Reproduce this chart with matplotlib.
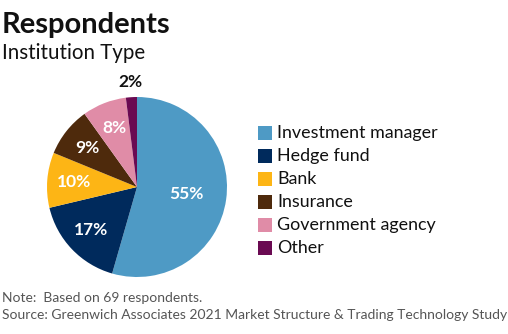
import numpy as np
import matplotlib.pyplot as plt
from matplotlib.patches import Rectangle

plt.rcParams['font.family'] = ['Lato', 'DejaVu Sans']

categories = ['Investment manager', 'Hedge fund', 'Bank', 'Insurance',
              'Government agency', 'Other']
shares = [55, 17, 10, 9, 8, 2]
colors = ['#4E9AC5', '#002A5C', '#FDB515', '#4E2A0C', '#E08CA7', '#6A0A52']

W, H = 508, 334
fig = plt.figure(figsize=(W / 100, H / 100), dpi=100)

def fx(px):
    return px / W

def fy(py):
    return 1 - py / H

# title block
fig.text(fx(2), fy(33), 'Respondents', fontsize=21, fontweight='bold',
         color='#111111', va='baseline')
fig.text(fx(2), fy(59), 'Institution Type', fontsize=14.8, color='#111111',
         va='baseline')

# pie, clockwise from 12 o'clock
cx, cy, r = 137, 187, 90
ax = fig.add_axes([fx(cx - r), fy(cy + r), fx(2 * r), 2 * r / H])
wedges, _ = ax.pie(shares, colors=colors, startangle=90, counterclock=False,
                   wedgeprops=dict(linewidth=0))
ax.set_xlim(-1, 1)
ax.set_ylim(-1, 1)
ax.set_aspect('equal')
ax.axis('off')

for i, (w, v) in enumerate(zip(wedges, shares)):
    ang = np.deg2rad((w.theta1 + w.theta2) / 2)
    if v < 5:
        d, c = 1.17, '#111111'
    elif i == 0:
        d, c = 0.55, 'white'
    else:
        d, c = 0.7, 'white'
    ax.text(d * np.cos(ang), d * np.sin(ang), f'{v}%', ha='center',
            va='center', fontsize=12.5, fontweight='bold', color=c,
            clip_on=False)

# legend
y0, dy = 133, 23
for i, (name, c) in enumerate(zip(categories, colors)):
    y = y0 + i * dy
    fig.patches.append(Rectangle((fx(258), fy(y + 7)), fx(14), 14 / H,
                                 transform=fig.transFigure, facecolor=c,
                                 edgecolor='none'))
    fig.text(fx(277), fy(y), name, fontsize=12.9, color='#111111',
             va='center')

# footnotes
fig.text(fx(2), fy(302), 'Note:  Based on 69 respondents.', fontsize=10,
         color='#555555', va='baseline')
fig.text(fx(2), fy(319),
         'Source: Greenwich Associates 2021 Market Structure & Trading Technology Study',
         fontsize=10, color='#555555', va='baseline')

fig.savefig('out.png', dpi=100)
